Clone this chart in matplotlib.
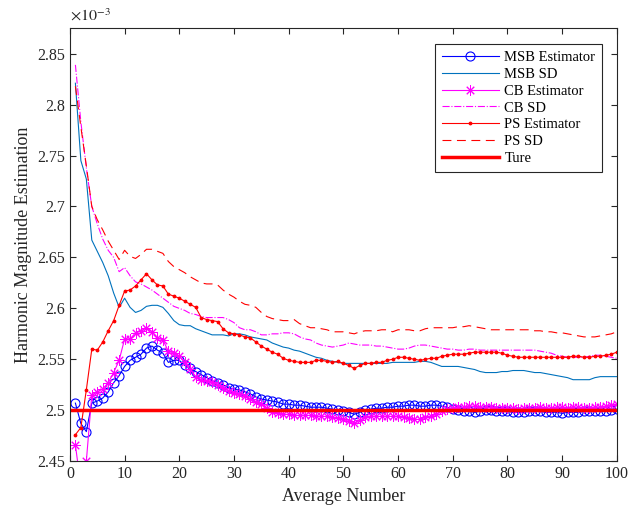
import matplotlib
matplotlib.use("Agg")
import matplotlib.pyplot as plt
from matplotlib.ticker import FuncFormatter

plt.rcParams['font.family'] = ['Liberation Serif', 'DejaVu Serif']
plt.rcParams['mathtext.fontset'] = 'stix'

# values, in units of 1e-3
avg_number = list(range(1, 101))

msb_est = [2.507, 2.487, 2.479, 2.507, 2.509, 2.512, 2.518, 2.527, 2.534, 2.543,
           2.549, 2.552, 2.555, 2.561, 2.563, 2.559, 2.556, 2.547, 2.549, 2.549,
           2.544, 2.541, 2.538, 2.535, 2.532, 2.529, 2.527, 2.525, 2.522, 2.521,
           2.520, 2.518, 2.516, 2.513, 2.511, 2.510, 2.509, 2.508, 2.506, 2.506,
           2.505, 2.505, 2.504, 2.503, 2.503, 2.503, 2.502, 2.501, 2.500, 2.499,
           2.498, 2.496, 2.498, 2.500, 2.501, 2.502, 2.502, 2.503, 2.503, 2.504,
           2.504, 2.505, 2.505, 2.504, 2.504, 2.505, 2.505, 2.504, 2.503, 2.501,
           2.500, 2.499, 2.499, 2.498, 2.499, 2.500, 2.500, 2.499, 2.499, 2.499,
           2.498, 2.498, 2.498, 2.499, 2.499, 2.499, 2.498, 2.498, 2.498, 2.497,
           2.498, 2.498, 2.498, 2.499, 2.499, 2.499, 2.499, 2.499, 2.500, 2.501]

msb_sd = [2.821, 2.745, 2.727, 2.667, 2.656, 2.645, 2.632, 2.615, 2.601, 2.610,
          2.601, 2.596, 2.598, 2.602, 2.603, 2.603, 2.601, 2.595, 2.588, 2.584,
          2.583, 2.583, 2.580, 2.578, 2.576, 2.574, 2.574, 2.574, 2.573, 2.575,
          2.575, 2.574, 2.572, 2.571, 2.570, 2.569, 2.566, 2.564, 2.562, 2.561,
          2.559, 2.558, 2.556, 2.554, 2.552, 2.551, 2.549, 2.548, 2.547, 2.546,
          2.546, 2.546, 2.546, 2.546, 2.546, 2.546, 2.546, 2.546, 2.547, 2.547,
          2.547, 2.547, 2.547, 2.548, 2.548, 2.547, 2.545, 2.543, 2.543, 2.543,
          2.543, 2.542, 2.541, 2.540, 2.538, 2.537, 2.537, 2.537, 2.538, 2.538,
          2.539, 2.539, 2.539, 2.538, 2.537, 2.537, 2.536, 2.535, 2.534, 2.533,
          2.532, 2.530, 2.530, 2.530, 2.530, 2.532, 2.533, 2.533, 2.533, 2.533]

cb_est = [2.466, 2.425, 2.450, 2.515, 2.518, 2.521, 2.527, 2.537, 2.549, 2.570,
          2.570, 2.576, 2.578, 2.581, 2.577, 2.571, 2.569, 2.558, 2.556, 2.553,
          2.547, 2.540, 2.533, 2.530, 2.529, 2.528, 2.525, 2.522, 2.519, 2.517,
          2.516, 2.514, 2.511, 2.508, 2.506, 2.502, 2.498, 2.497, 2.496, 2.496,
          2.495, 2.495, 2.495, 2.495, 2.494, 2.494, 2.494, 2.493, 2.492, 2.491,
          2.489, 2.487, 2.490, 2.493, 2.494, 2.494, 2.494, 2.494, 2.494, 2.494,
          2.493, 2.492, 2.491, 2.491, 2.493, 2.494, 2.496, 2.499, 2.501, 2.502,
          2.503, 2.503, 2.504, 2.504, 2.503, 2.503, 2.503, 2.502, 2.502, 2.502,
          2.502, 2.501, 2.502, 2.502, 2.502, 2.503, 2.502, 2.502, 2.503, 2.503,
          2.502, 2.503, 2.503, 2.502, 2.502, 2.503, 2.503, 2.504, 2.505, 2.506]

cb_sd = [2.839, 2.783, 2.738, 2.700, 2.683, 2.668, 2.657, 2.650, 2.636, 2.640,
         2.632, 2.626, 2.624, 2.621, 2.618, 2.614, 2.610, 2.606, 2.602, 2.600,
         2.598, 2.595, 2.594, 2.592, 2.591, 2.591, 2.591, 2.591, 2.589, 2.586,
         2.581, 2.579, 2.579, 2.577, 2.574, 2.574, 2.575, 2.575, 2.576, 2.576,
         2.575, 2.572, 2.570, 2.569, 2.566, 2.564, 2.563, 2.562, 2.563, 2.564,
         2.566, 2.565, 2.564, 2.564, 2.564, 2.563, 2.563, 2.562, 2.561, 2.560,
         2.560, 2.561, 2.563, 2.564, 2.564, 2.563, 2.562, 2.561, 2.560, 2.560,
         2.559, 2.559, 2.560, 2.560, 2.559, 2.559, 2.559, 2.559, 2.559, 2.559,
         2.559, 2.559, 2.559, 2.559, 2.559, 2.558, 2.557, 2.556, 2.554, 2.553,
         2.552, 2.552, 2.552, 2.552, 2.553, 2.554, 2.554, 2.553, 2.552, 2.551]

ps_est = [2.476, 2.483, 2.520, 2.560, 2.559, 2.567, 2.578, 2.588, 2.603, 2.617,
          2.618, 2.622, 2.628, 2.634, 2.628, 2.623, 2.622, 2.614, 2.612, 2.610,
          2.607, 2.604, 2.601, 2.591, 2.589, 2.588, 2.587, 2.580, 2.576, 2.575,
          2.574, 2.572, 2.571, 2.567, 2.563, 2.560, 2.557, 2.555, 2.551, 2.549,
          2.548, 2.547, 2.547, 2.547, 2.549, 2.549, 2.548, 2.547, 2.548, 2.546,
          2.544, 2.541, 2.544, 2.546, 2.546, 2.547, 2.547, 2.549, 2.550, 2.552,
          2.552, 2.551, 2.550, 2.549, 2.550, 2.551, 2.551, 2.553, 2.554, 2.555,
          2.555, 2.555, 2.556, 2.557, 2.557, 2.557, 2.557, 2.557, 2.556, 2.554,
          2.553, 2.552, 2.552, 2.552, 2.552, 2.552, 2.552, 2.552, 2.552, 2.552,
          2.552, 2.553, 2.553, 2.552, 2.552, 2.553, 2.553, 2.554, 2.555, 2.557]

ps_sd = [2.818, 2.778, 2.740, 2.700, 2.687, 2.677, 2.666, 2.657, 2.648, 2.657,
         2.651, 2.649, 2.653, 2.658, 2.658, 2.656, 2.654, 2.646, 2.641, 2.638,
         2.635, 2.631, 2.628, 2.625, 2.624, 2.624, 2.623, 2.618, 2.614, 2.611,
         2.607, 2.604, 2.603, 2.601, 2.596, 2.592, 2.590, 2.589, 2.588, 2.588,
         2.589, 2.585, 2.583, 2.581, 2.581, 2.580, 2.579, 2.577, 2.577, 2.577,
         2.576, 2.575, 2.577, 2.578, 2.578, 2.578, 2.579, 2.579, 2.577, 2.579,
         2.579, 2.579, 2.578, 2.578, 2.580, 2.581, 2.581, 2.581, 2.581, 2.581,
         2.582, 2.582, 2.583, 2.582, 2.581, 2.580, 2.579, 2.579, 2.579, 2.579,
         2.579, 2.579, 2.579, 2.579, 2.578, 2.578, 2.577, 2.577, 2.576, 2.576,
         2.575, 2.574, 2.573, 2.572, 2.572, 2.572, 2.573, 2.574, 2.575, 2.577]

true_x = [0, 100]
true_y = [2.5, 2.5]

fig = plt.figure(figsize=(6.3, 5.13), dpi=100)
ax = fig.add_axes([0.111, 0.101, 0.868, 0.844])

ax.plot(avg_number, msb_est, color='blue', lw=0.8, marker='o', ms=6.5,
        mfc='none', mew=0.8, label='MSB Estimator')
ax.plot(avg_number, msb_sd, '-', color='#0072BD', lw=0.8, label='MSB SD')
ax.plot(avg_number, cb_est, color='magenta', lw=0.8, marker=(8, 2, 0),
        ms=7.5, mew=0.7, label='CB Estimator')
ax.plot(avg_number, cb_sd, '-.', color='magenta', lw=0.8, label='CB SD')
ax.plot(avg_number, ps_est, color='red', lw=0.8, marker='.', ms=3.5,
        label='PS Estimator')
ax.plot(avg_number, ps_sd, '--', color='red', lw=0.8, dashes=(8, 5),
        label='PS SD')
ax.plot(true_x, true_y, '-', color='red', lw=2.5, label='Ture')

ax.set_xlim(0, 100)
ax.set_ylim(2.45, 2.875)
ax.set_xticks(range(0, 101, 10))
ax.set_yticks([2.45, 2.5, 2.55, 2.6, 2.65, 2.7, 2.75, 2.8, 2.85])
ax.yaxis.set_major_formatter(FuncFormatter(lambda v, p: '%g' % round(v, 3)))

ax.tick_params(direction='in', top=True, right=True, length=4, width=0.8,
               labelsize=11.5, colors='#262626')
for s in ax.spines.values():
    s.set_color('#262626')
    s.set_linewidth(0.8)

ax.set_xlabel('Average Number', fontsize=13, color='#262626')
ax.set_ylabel('Harmonic Magnitude Estimation', fontsize=13, color='#262626')
ax.text(0.0, 1.008, r'$\times 10^{-3}$', transform=ax.transAxes,
        fontsize=11.5, color='#262626', ha='left', va='bottom')

leg = ax.legend(loc='upper right', bbox_to_anchor=(0.973, 0.963), fontsize=10.5,
                handlelength=3.9, fancybox=False, framealpha=1,
                edgecolor='#262626', borderpad=0.45, labelspacing=0.25,
                handletextpad=0.4, borderaxespad=0)
leg.get_frame().set_linewidth(0.8)

fig.savefig('out.png', dpi=100)
